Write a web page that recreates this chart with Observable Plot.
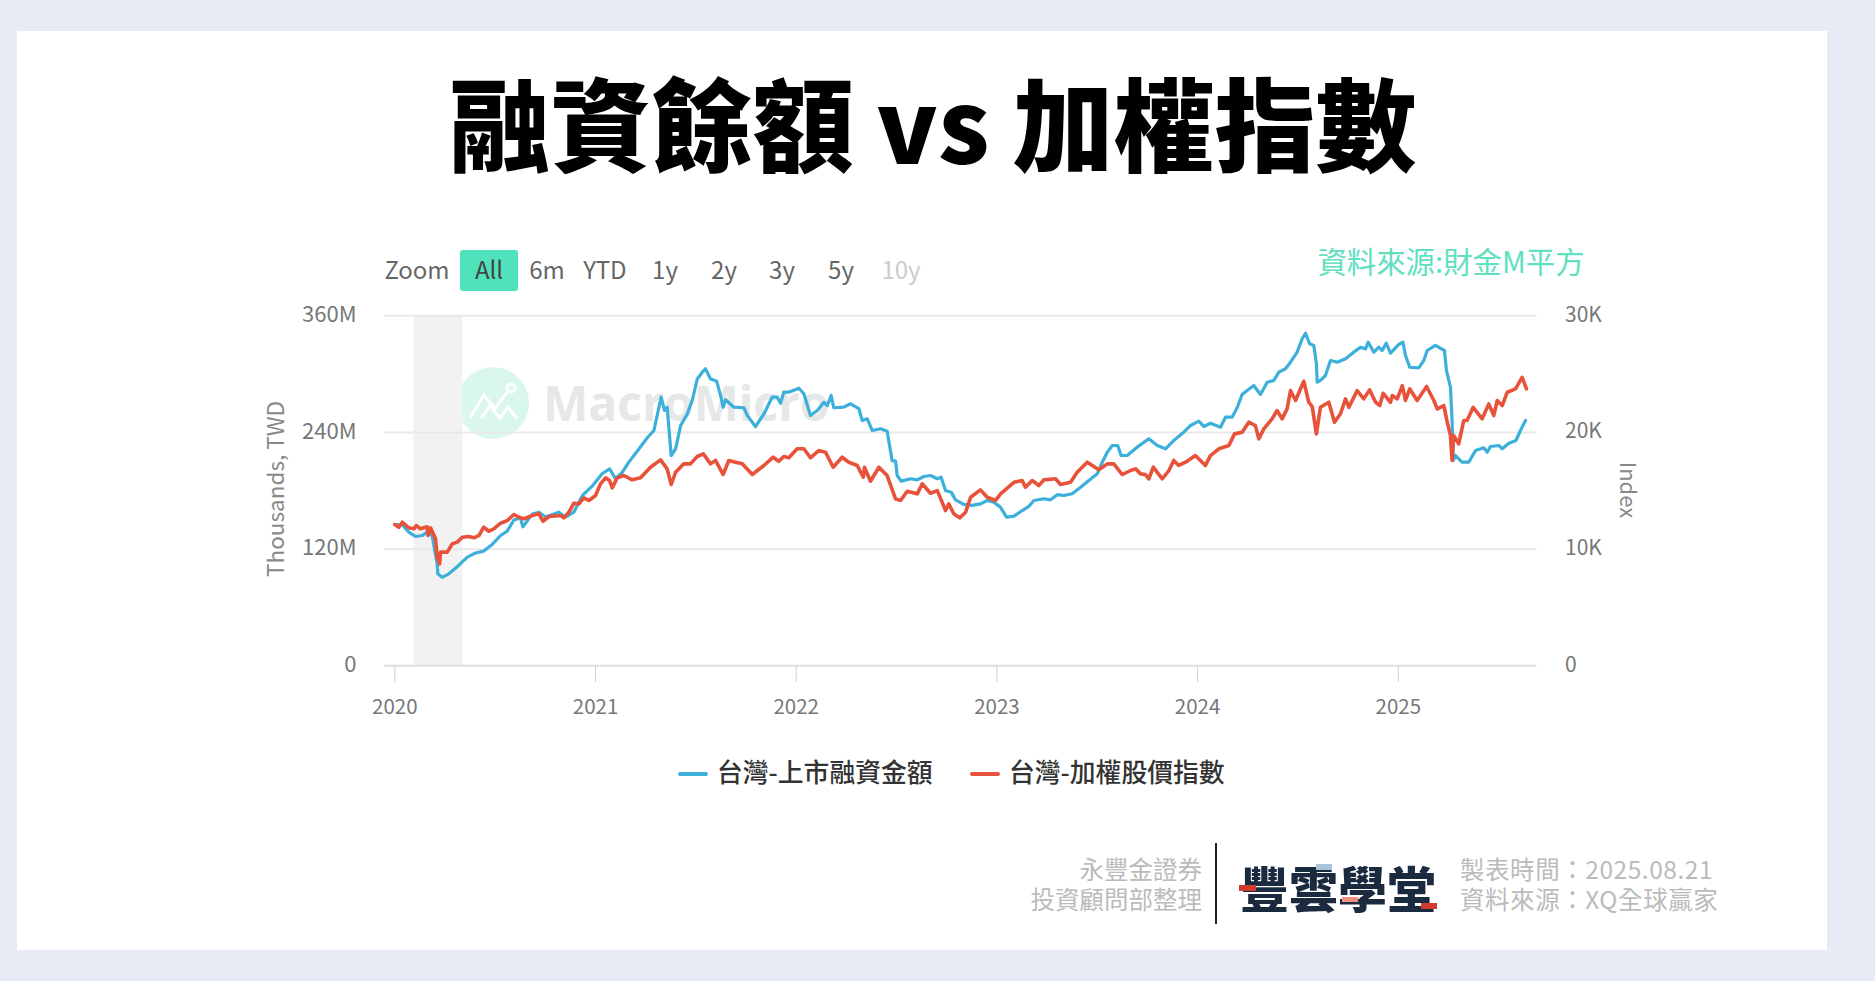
<!DOCTYPE html>
<html lang="zh-Hant">
<head>
<meta charset="utf-8">
<script src="https://cdn.jsdelivr.net/npm/d3@7"></script>
<script src="https://cdn.jsdelivr.net/npm/@observablehq/plot@0.6"></script>
<style>
html,body{margin:0;padding:0;width:1875px;height:981px;overflow:hidden;background:#e6ebf5;}
body{position:relative;font-family:"Noto Sans CJK TC","Noto Sans",sans-serif;}
.a{position:absolute;white-space:nowrap;line-height:1;}
.c{transform:translate(-50%,-50%);}
.r{transform:translateY(-50%);}
#card{position:absolute;left:17px;top:31px;width:1810px;height:919px;background:#fff;}
#chart{position:absolute;left:0;top:0;}
#chart svg{background:transparent;display:block;}
</style>
</head>
<body>
<div id="card"></div>
<div class="a c" style="left:933px;top:120px;font-size:101px;font-weight:900;color:#000;">融資餘額 vs 加權指數</div>

<div class="a c" style="left:417px;top:269px;font-size:24px;color:#666;">Zoom</div>
<div class="a" style="left:460px;top:250px;width:58px;height:41px;background:#50e3bb;border-radius:3px;"></div>
<div class="a c" style="left:489px;top:269px;font-size:24px;color:#444;">All</div>
<div class="a c" style="left:547px;top:269px;font-size:24px;color:#666;">6m</div>
<div class="a c" style="left:605px;top:269px;font-size:24px;color:#666;">YTD</div>
<div class="a c" style="left:665px;top:269px;font-size:24px;color:#666;">1y</div>
<div class="a c" style="left:724px;top:269px;font-size:24px;color:#666;">2y</div>
<div class="a c" style="left:782px;top:269px;font-size:24px;color:#666;">3y</div>
<div class="a c" style="left:841px;top:269px;font-size:24px;color:#666;">5y</div>
<div class="a c" style="left:901px;top:269px;font-size:24px;color:#ccc;">10y</div>
<div class="a c" style="left:1451px;top:261px;font-size:29.4px;color:#5fe0c0;">資料來源:財金M平方</div>

<!-- watermark sits under the transparent plot -->
<svg class="a" style="left:457px;top:366px;" width="76" height="76" viewBox="0 0 76 76">
  <circle cx="36" cy="37" r="36" fill="#d9f7ee"/>
  <polyline points="13,52 27,29 38,43 51,25" fill="none" stroke="#fff" stroke-width="3"/>
  <circle cx="54" cy="22" r="4" fill="none" stroke="#fff" stroke-width="2.5"/>
  <polyline points="24,52 33,40 43,52 51,41 60,53" fill="none" stroke="#fff" stroke-width="3"/>
</svg>
<div class="a" style="left:543px;top:379px;font-size:48px;font-weight:700;color:#e6e8e8;font-family:'Open Sans',sans-serif;">MacroMicro</div>

<div id="chart"></div>

<div class="a c" style="left:274px;top:489px;font-size:22.5px;color:#888;transform:translate(-50%,-50%) rotate(-90deg);">Thousands, TWD</div>
<div class="a c" style="left:1630px;top:490px;font-size:22px;color:#888;transform:translate(-50%,-50%) rotate(90deg);">Index</div>

<div class="a" style="left:678px;top:772px;width:30px;height:4px;background:#3cb0da;border-radius:2px;"></div>
<div class="a r" style="left:717px;top:771px;font-size:25.8px;font-weight:500;color:#333;">台灣-上市融資金額</div>
<div class="a" style="left:970px;top:772px;width:30px;height:4px;background:#e8523a;border-radius:2px;"></div>
<div class="a r" style="left:1009px;top:771px;font-size:25.8px;font-weight:500;color:#333;">台灣-加權股價指數</div>

<div class="a r" style="right:673px;top:884px;font-size:24.5px;line-height:30px;white-space:pre;text-align:right;color:#bbb;">永豐金證券
投資顧問部整理</div>
<div class="a" style="left:1215px;top:843px;width:2px;height:81px;background:#222;"></div>
<div class="a c" style="left:1338px;top:886px;font-size:49px;font-weight:900;color:#1a2a3f;">豐雲學堂</div>
<div class="a" style="left:1239px;top:885px;width:17px;height:6px;background:#d23a2e;"></div>
<div class="a" style="left:1316px;top:864px;width:16px;height:6px;background:#a9c3d8;"></div>
<div class="a" style="left:1342px;top:897px;width:16px;height:5px;background:#f0907f;"></div>
<div class="a" style="left:1421px;top:903px;width:16px;height:6px;background:#d23a2e;"></div>
<div class="a r" style="left:1460px;top:884px;font-size:24.5px;line-height:30px;white-space:pre;letter-spacing:0.55px;color:#bbb;">製表時間：2025.08.21
資料來源：XQ全球贏家</div>

<script>
// ---- chart values ----
const tickYears = [2020, 2021, 2022, 2023, 2024, 2025];
const leftTicks = [0, 120, 240, 360];
const leftLabels = ["0", "120M", "240M", "360M"];
const rightLabels = ["0", "10K", "20K", "30K"];
const shadedStart = 2020.095, shadedEnd = 2020.339;

// 台灣-上市融資金額 (millions TWD), x in decimal years
const marginYears = [2020.000,2020.037,2020.070,2020.103,2020.137,2020.161,2020.186,2020.199,2020.211,2020.214,2020.236,2020.269,2020.302,2020.327,2020.361,2020.402,2020.443,2020.485,2020.527,2020.560,2020.593,2020.626,2020.638,2020.685,2020.718,2020.751,2020.817,2020.850,2020.892,2020.934,2020.984,2021.033,2021.070,2021.100,2021.133,2021.166,2021.216,2021.258,2021.291,2021.327,2021.344,2021.357,2021.377,2021.399,2021.424,2021.457,2021.482,2021.507,2021.532,2021.548,2021.573,2021.603,2021.623,2021.636,2021.648,2021.689,2021.739,2021.756,2021.797,2021.839,2021.880,2021.905,2021.922,2021.938,2021.963,2022.013,2022.038,2022.071,2022.105,2022.138,2022.155,2022.174,2022.187,2022.237,2022.271,2022.312,2022.329,2022.354,2022.379,2022.420,2022.453,2022.478,2022.495,2022.503,2022.523,2022.570,2022.603,2022.636,2022.669,2022.703,2022.722,2022.744,2022.772,2022.794,2022.835,2022.877,2022.918,2022.952,2022.985,2023.018,2023.048,2023.085,2023.126,2023.159,2023.184,2023.234,2023.267,2023.301,2023.334,2023.375,2023.417,2023.458,2023.500,2023.525,2023.550,2023.575,2023.602,2023.619,2023.649,2023.699,2023.757,2023.799,2023.840,2023.881,2023.931,2023.965,2024.006,2024.031,2024.064,2024.114,2024.139,2024.172,2024.197,2024.222,2024.247,2024.280,2024.313,2024.347,2024.380,2024.405,2024.438,2024.463,2024.496,2024.521,2024.538,2024.558,2024.579,2024.592,2024.596,2024.612,2024.637,2024.662,2024.696,2024.737,2024.778,2024.812,2024.837,2024.850,2024.878,2024.903,2024.920,2024.940,2024.961,2025.003,2025.023,2025.036,2025.057,2025.102,2025.127,2025.144,2025.185,2025.230,2025.240,2025.260,2025.268,2025.274,2025.285,2025.318,2025.351,2025.385,2025.426,2025.443,2025.459,2025.501,2025.518,2025.551,2025.586,2025.609,2025.634];
const marginValues = [145.3,145,137.5,133,134,137.5,134,118.6,105,94.6,91,94.6,100.4,105,111.8,116,118,124.8,134,138.5,150,152,143,156,158,153,158,153,158,175,185,197.5,202.6,192.4,199,209.5,223,234.6,242,276.3,262.6,266,216.3,223.2,247,259,273,295,302,305.5,295,293,278,266,273.6,266,265.4,257.5,246,259,276.3,276.3,270,281.4,281.4,285.5,279.8,257.5,262.6,271,267.7,278,265.4,266,269.5,264.4,252.3,254,242,243.8,241.3,211,210.5,195.7,190,192.4,191.3,194.7,195.7,192.4,194,180.3,178.6,170.7,166,165,166.6,170,168.3,163,153,153.9,159.7,163.9,170,171.8,170.7,176,175.2,177,183.7,190.6,197.5,209.4,219.7,226.6,226.6,216.3,216.3,224.9,233.5,226.6,223.2,231.7,240.3,247.2,251.6,246.2,249.5,245.4,255.7,255.7,265.4,279,283.2,288.3,279,291.7,293.5,302,305.5,312.3,322.6,336.4,342,331.2,329.5,310.6,291.7,293.5,298.6,314,312.3,315.8,322.6,327.7,326,332.9,322.6,327.7,324.3,331.8,321.5,330.5,332.9,319.2,307.1,306.5,314,324.3,329.5,324.3,303.7,286.6,252.3,211.2,216.3,209.4,209.4,221.5,224.2,219.7,225.6,226.6,223.2,229,231.7,242,252.3];

// 台灣-加權股價指數 (index points), x in decimal years
const indexYears = [2020.000,2020.020,2020.037,2020.070,2020.095,2020.107,2020.128,2020.161,2020.166,2020.178,2020.203,2020.211,2020.223,2020.228,2020.261,2020.286,2020.311,2020.336,2020.369,2020.394,2020.419,2020.443,2020.468,2020.493,2020.527,2020.560,2020.593,2020.618,2020.643,2020.685,2020.718,2020.738,2020.768,2020.826,2020.842,2020.867,2020.892,2020.917,2020.942,2020.967,2021.000,2021.025,2021.050,2021.070,2021.083,2021.108,2021.141,2021.183,2021.224,2021.274,2021.324,2021.357,2021.377,2021.399,2021.440,2021.473,2021.507,2021.537,2021.573,2021.598,2021.636,2021.664,2021.698,2021.731,2021.781,2021.839,2021.885,2021.913,2021.938,2021.963,2022.005,2022.038,2022.071,2022.112,2022.146,2022.184,2022.229,2022.262,2022.304,2022.334,2022.340,2022.370,2022.412,2022.453,2022.495,2022.520,2022.553,2022.603,2022.628,2022.669,2022.703,2022.744,2022.760,2022.785,2022.815,2022.844,2022.869,2022.918,2022.952,2022.993,2023.018,2023.085,2023.126,2023.142,2023.176,2023.209,2023.234,2023.292,2023.317,2023.367,2023.400,2023.450,2023.508,2023.550,2023.583,2023.624,2023.666,2023.691,2023.716,2023.740,2023.757,2023.779,2023.824,2023.857,2023.881,2023.906,2023.940,2023.989,2024.039,2024.064,2024.106,2024.156,2024.184,2024.222,2024.255,2024.288,2024.305,2024.330,2024.371,2024.396,2024.421,2024.446,2024.463,2024.488,2024.529,2024.554,2024.571,2024.592,2024.612,2024.654,2024.682,2024.712,2024.737,2024.754,2024.795,2024.828,2024.857,2024.887,2024.908,2024.925,2024.961,2024.970,2024.995,2025.020,2025.036,2025.057,2025.094,2025.141,2025.177,2025.194,2025.227,2025.244,2025.260,2025.268,2025.276,2025.301,2025.326,2025.343,2025.373,2025.418,2025.451,2025.476,2025.493,2025.518,2025.543,2025.584,2025.617,2025.639];
const indexValues = [12110,11880,12310,11825,11740,12025,11740,11915,11170,11825,10880,9310,8740,9740,9740,10450,10600,11020,11080,10970,11170,11880,11535,11740,12220,12450,12970,12735,12600,12880,13030,12390,12800,12880,12680,13160,13935,13880,14400,14170,14600,15600,16110,15880,15250,16110,16310,15940,16110,17020,17650,16880,15540,16590,17310,17310,17940,18170,17310,17600,16395,17600,17450,17310,16395,17170,17880,17530,17940,17830,18600,18600,17830,18450,18310,17020,17880,17450,17170,16165,17020,15820,17020,16310,14310,14170,14960,14740,15600,14790,15020,13310,13880,13030,12680,13160,14450,15080,14450,14170,14740,15730,15880,15310,15880,15450,15940,16030,15540,15730,16590,17450,16800,17310,17310,16395,16740,16880,16450,16395,16030,17020,16030,16740,17600,17170,17450,18020,17170,18020,18600,18880,19880,20020,20880,20590,19450,20310,21170,21880,21170,22025,23590,22740,24390,22590,22220,19880,22160,22590,20880,21600,22880,22160,23590,22880,23650,22590,22310,23360,22590,23160,22880,24020,22740,23740,22740,23940,22740,22025,22310,20880,19740,17600,19740,19025,21020,21020,22160,21170,22450,21450,22740,22310,23450,23740,24730,23740];

const indexMax = 30000;
const blueRows = marginYears.map((x, i) => ({x, y: marginValues[i]}));
const redRows = indexYears.map((x, i) => ({x, y: indexValues[i] * 360 / indexMax}));

const plot = Plot.plot({
  width: 1875, height: 720,
  marginLeft: 384, marginRight: 338.5, marginTop: 315.3, marginBottom: 54.7,
  style: {background: "transparent", fontFamily: '"Noto Sans CJK TC","Noto Sans",sans-serif', fontSize: "20.5px"},
  x: {domain: [2019.9485, 2025.6912], label: null},
  y: {domain: [0, 360], label: null},
  marks: [
    Plot.rect([{a: shadedStart, b: shadedEnd}], {x1: "a", x2: "b", y1: () => 0, y2: () => 360, fill: "#f2f2f2"}),
    Plot.ruleY(leftTicks.slice(1), {stroke: "#e9e9e9", strokeWidth: 2}),
    Plot.ruleY([0], {stroke: "#dcdfe3", strokeWidth: 2}),
    Plot.axisY({anchor: "left", ticks: leftTicks, tickSize: 0, tickPadding: 28, label: null, fontSize: 22, dy: -1,
      tickFormat: v => leftLabels[leftTicks.indexOf(v)], fill: "#777"}),
    Plot.axisY({anchor: "right", ticks: leftTicks, tickSize: 0, tickPadding: 28, label: null, fontSize: 21, dy: -1,
      tickFormat: v => rightLabels[leftTicks.indexOf(v)], fill: "#777"}),
    Plot.axisX({ticks: tickYears, tickSize: 17, tickPadding: 17, label: null, tickFormat: d3.format("d"),
      stroke: "#ccd3dc", fill: "#777"}),
    Plot.line(blueRows, {x: "x", y: "y", stroke: "#3cb0da", strokeWidth: 3.2, strokeLinejoin: "round"}),
    Plot.line(redRows, {x: "x", y: "y", stroke: "#e8523a", strokeWidth: 3.6, strokeLinejoin: "round"})
  ]
});
document.getElementById("chart").append(plot);
</script>
</body>
</html>
